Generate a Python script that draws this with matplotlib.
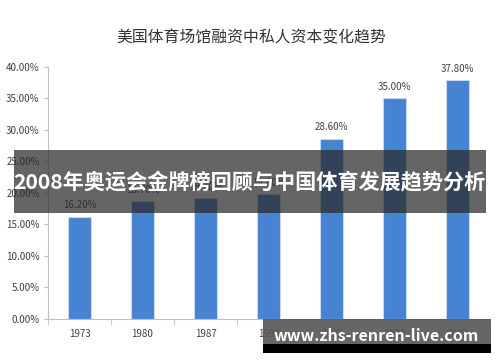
import matplotlib.pyplot as plt
import numpy as np
from matplotlib.patches import Rectangle

plt.rcParams['font.family'] = ['Noto Sans CJK SC', 'DejaVu Sans']

# data
years = ["1973", "1980", "1987", "1990", "1995", "1998", "2002"]
private_share = [16.2, 18.7, 19.2, 19.8, 28.6, 35.0, 37.8]
yticks = [0, 5, 10, 15, 20, 25, 30, 35, 40]

fig = plt.figure(figsize=(5.0, 3.62), dpi=100)
ax = fig.add_axes([0.096, 0.119, 0.882, 0.697])

x = np.arange(len(years))
bars = ax.bar(x, private_share, width=0.37, color='#4683d3',
              edgecolor='#c9d9ee', linewidth=0.8, zorder=2)
for xi, v in zip(x, private_share):
    ax.text(xi, v + 1.0, "{:.2f}%".format(v), ha='center', va='bottom',
            fontsize=7, color='#404040')

ax.set_xlim(-0.5, len(years) - 0.5)
ax.set_ylim(0, 40)
ax.set_yticks(yticks)
ax.set_yticklabels(["{:.2f}%".format(t) for t in yticks], fontsize=7, color='#404040')
ax.set_xticks(x)
ax.set_xticklabels(years, fontsize=7, color='#404040')
ax.tick_params(axis='x', length=0, pad=7)
ax.set_xticks(np.arange(-0.5, len(years), 1), minor=True)
ax.tick_params(axis='x', which='minor', length=4, color='#bfbfbf')
ax.tick_params(axis='y', length=3, color='#bfbfbf', pad=3)

for s in ['top', 'right']:
    ax.spines[s].set_visible(False)
ax.spines['left'].set_color('#bfbfbf')
ax.spines['bottom'].set_color('#bfbfbf')

fig.text(0.502, 1 - 38 / 362, "美国体育场馆融资中私人资本变化趋势", ha='center', va='center',
         fontsize=11.4, color='#333333')

# banner overlay
fig.patches.append(Rectangle((0.028, 1 - 213 / 362), 0.944, 63 / 362,
                             transform=fig.transFigure, facecolor='#2a2a2a',
                             alpha=0.72, zorder=5))
fig.text(0.498, 1 - 182 / 362, "2008年奥运会金牌榜回顾与中国体育发展趋势分析",
         ha='center', va='center', fontsize=15.2, fontweight='bold',
         color='white', zorder=6)

# watermark box
fig.patches.append(Rectangle((263 / 500, 1 - 344 / 362), 228 / 500, 25 / 362,
                             transform=fig.transFigure, facecolor='#555555',
                             alpha=0.9, zorder=5))
fig.patches.append(Rectangle((263 / 500, 1 - 353 / 362), 228 / 500, 9 / 362,
                             transform=fig.transFigure, facecolor='black', zorder=5))
fig.text(376 / 500, 1 - 336 / 362, "www.zhs-renren-live.com", ha='center', va='center',
         fontsize=11.5, fontweight='bold', color='white', zorder=6)

plt.savefig('out.png', dpi=100)
